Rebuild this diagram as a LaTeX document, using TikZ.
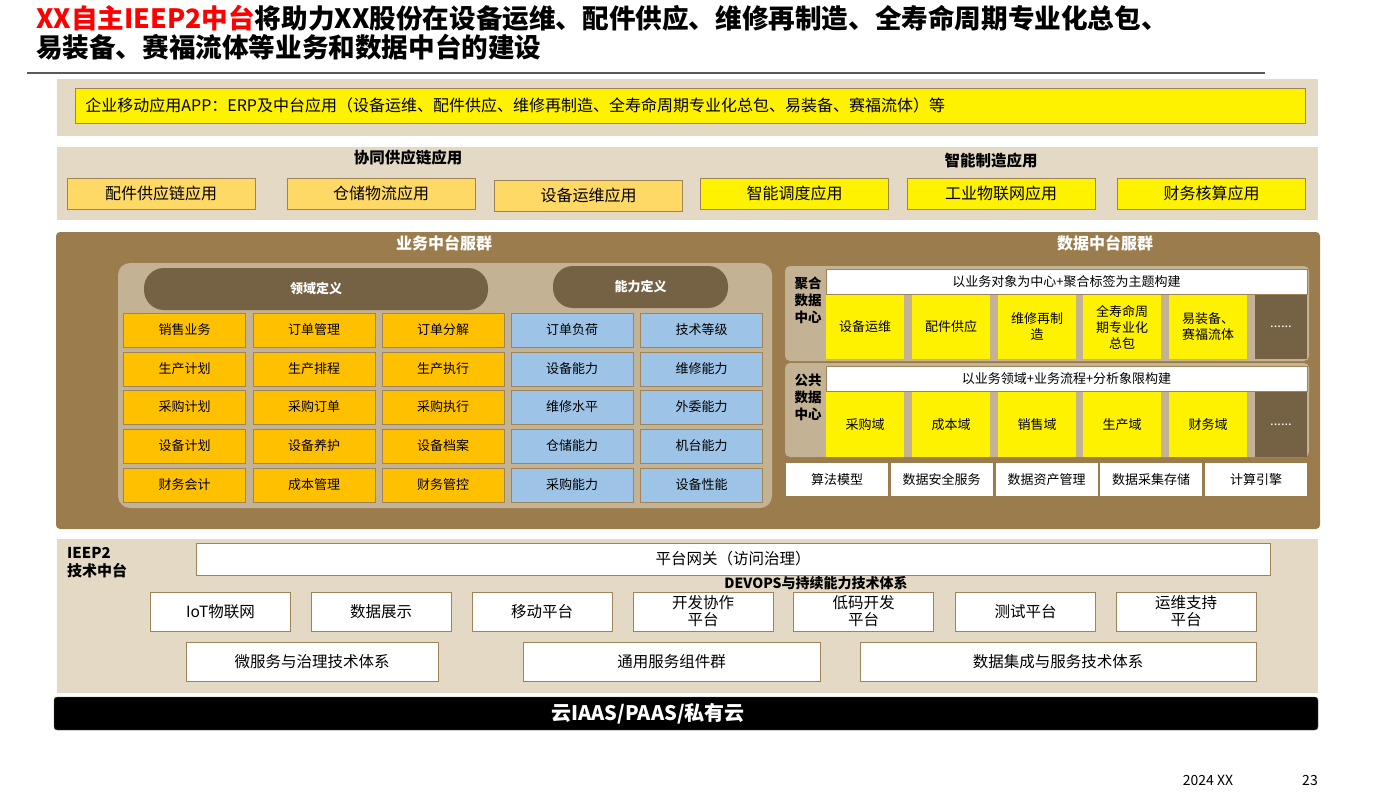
\documentclass[tikz,border=0pt]{standalone}
\usepackage{fontspec}
\setmainfont{Noto Sans CJK SC}
\definecolor{bandbg}{RGB}{228,217,197}
\definecolor{brownbg}{RGB}{155,124,76}
\definecolor{tanbg}{RGB}{196,178,148}
\definecolor{darkpill}{RGB}{117,98,68}
\definecolor{boxline}{RGB}{158,132,88}
\definecolor{amber}{RGB}{255,192,0}
\definecolor{sand}{RGB}{255,217,102}
\definecolor{skyblue}{RGB}{157,195,230}
\definecolor{titlered}{RGB}{255,0,0}

\begin{document}
\begin{tikzpicture}[x=1pt, y=-1pt,
  box/.style={draw=boxline, line width=0.8pt, inner sep=0pt, align=center},
  app/.style={box, minimum width=188pt, minimum height=31pt, font=\fontsize{16}{18}\selectfont},
  grp/.style={font=\fontsize{15.5}{18}\selectfont\bfseries, inner sep=0pt},
  hdr/.style={font=\fontsize{16}{19}\selectfont\bfseries, text=white, inner sep=0pt},
  pill/.style={fill=darkpill, rounded corners=20pt, minimum height=42pt, font=\fontsize{13}{15}\selectfont\bfseries, text=white},
  domcell/.style={box, fill=amber, minimum width=122pt, minimum height=34pt, font=\fontsize{13}{15}\selectfont},
  capcell/.style={domcell, fill=skyblue},
  dctr/.style={font=\fontsize{13.5}{17}\selectfont\bfseries, align=center, inner sep=0pt},
  theme/.style={box, fill=white, line width=0.5pt, minimum width=481pt, minimum height=25pt, font=\fontsize{13}{15}\selectfont},
  dcell/.style={fill=yellow, inner sep=0pt, align=center, minimum width=78pt, font=\fontsize{13}{16}\selectfont},
  dmore/.style={fill=darkpill, inner sep=0pt, minimum width=52pt, text=white, font=\fontsize{13}{15}\selectfont},
  svc/.style={fill=white, inner sep=0pt, minimum width=102pt, minimum height=33pt, font=\fontsize{13}{15}\selectfont},
  tech/.style={box, fill=white, minimum width=140pt, minimum height=39pt, font=\fontsize{15.5}{17}\selectfont},
  wide/.style={box, fill=white, minimum height=39pt, font=\fontsize{15.5}{17}\selectfont}]
\useasboundingbox[fill=white] (0,0) rectangle (1398,793);

\node[anchor=west, align=left, inner sep=0pt, font=\fontsize{26.6}{29}\selectfont\bfseries] (title) at (36,33)
  {\textcolor{titlered}{XX自主IEEP2中台}将助力XX股份在设备运维、配件供应、维修再制造、全寿命周期专业化总包、\\易装备、赛福流体等业务和数据中台的建设};
\draw[line width=1.5pt, black!65] (27,73) -- (1265,73);

\fill[bandbg] (57,79) rectangle (1318,136);
\node[box, fill=yellow, anchor=west, align=left, text width=1210pt, inner xsep=10pt, minimum height=35pt, font=\fontsize{16}{18}\selectfont] (mapp) at (75,105.5)
  {企业移动应用APP：ERP及中台应用（设备运维、配件供应、维修再制造、全寿命周期专业化总包、易装备、赛福流体）等};

\fill[bandbg] (57,147) rectangle (1318,220);
\node[grp] (scm) at (408,158) {协同供应链应用};
\node[grp] (smart) at (991,161) {智能制造应用};
\node[app, fill=sand] (parts) at (161,193.5) {配件供应链应用};
\node[app, fill=sand] (wms) at (381,193.5) {仓储物流应用};
\node[app, fill=sand] (eqops) at (588.5,195.5) {设备运维应用};
\node[app, fill=yellow] (sched) at (794.5,193.5) {智能调度应用};
\node[app, fill=yellow] (iiot) at (1001,193.5) {工业物联网应用};
\node[app, fill=yellow] (fin) at (1211.5,193.5) {财务核算应用};

\fill[brownbg, rounded corners=4pt] (56,232) rectangle (1320,529);
\node[hdr] (bizhub) at (444,243) {业务中台服群};
\node[hdr] (datahub) at (1105,243) {数据中台服群};
\fill[tanbg, rounded corners=12pt] (118,263) rectangle (772,508);
\node[pill, minimum width=344pt] (domain) at (316,289) {领域定义};
\node[pill, minimum width=175pt] (ability) at (640.5,287) {能力定义};

\node[domcell] (sale) at (184.5,330) {销售业务};
\node[domcell] (ordmg) at (314,330) {订单管理};
\node[domcell] (ordsp) at (443,330) {订单分解};
\node[capcell] (ordld) at (572,330) {订单负荷};
\node[capcell] (skill) at (701.5,330) {技术等级};
\node[domcell] (pplan) at (184.5,369) {生产计划};
\node[domcell] (psched) at (314,369) {生产排程};
\node[domcell] (pexec) at (443,369) {生产执行};
\node[capcell] (eqcap) at (572,369) {设备能力};
\node[capcell] (mtcap) at (701.5,369) {维修能力};
\node[domcell] (bplan) at (184.5,407) {采购计划};
\node[domcell] (border) at (314,407) {采购订单};
\node[domcell] (bexec) at (443,407) {采购执行};
\node[capcell] (mtlvl) at (572,407) {维修水平};
\node[capcell] (outcap) at (701.5,407) {外委能力};
\node[domcell] (eplan) at (184.5,446) {设备计划};
\node[domcell] (ecare) at (314,446) {设备养护};
\node[domcell] (efile) at (443,446) {设备档案};
\node[capcell] (stcap) at (572,446) {仓储能力};
\node[capcell] (mccap) at (701.5,446) {机台能力};
\node[domcell] (acct) at (184.5,485) {财务会计};
\node[domcell] (cost) at (314,485) {成本管理};
\node[domcell] (fctl) at (443,485) {财务管控};
\node[capcell] (bycap) at (572,485) {采购能力};
\node[capcell] (eqperf) at (701.5,485) {设备性能};

\fill[tanbg, rounded corners=5pt] (785,266) rectangle (1309,361);
\fill[tanbg, rounded corners=5pt] (785,363) rectangle (1309,457);
\node[dctr] (aggdc) at (808,300) {聚合\\数据\\中心};
\node[dctr] (pubdc) at (808,397) {公共\\数据\\中心};
\node[theme] (aggth) at (1066.5,281.5) {以业务对象为中心+聚合标签为主题构建};
\node[theme] (pubth) at (1066.5,379) {以业务领域+业务流程+分析象限构建};
\node[dcell, minimum height=64pt] (aeq) at (865,327) {设备运维};
\node[dcell, minimum height=64pt] (apart) at (951,327) {配件供应};
\node[dcell, minimum height=64pt] (arep) at (1037,327) {维修再制\\造};
\node[dcell, minimum height=64pt] (alife) at (1122,327) {全寿命周\\期专业化\\总包};
\node[dcell, minimum height=64pt] (aeasy) at (1208,327) {易装备、\\赛福流体};
\node[dmore, minimum height=64pt] (amore) at (1281,327) {......};
\node[dcell, minimum height=65pt] (pbuy) at (865,424.5) {采购域};
\node[dcell, minimum height=65pt] (pcost) at (951,424.5) {成本域};
\node[dcell, minimum height=65pt] (psale) at (1037,424.5) {销售域};
\node[dcell, minimum height=65pt] (pprod) at (1122,424.5) {生产域};
\node[dcell, minimum height=65pt] (pfin) at (1208,424.5) {财务域};
\node[dmore, minimum height=65pt] (pmore) at (1281,424.5) {......};
\node[svc] (algo) at (837,479.5) {算法模型};
\node[svc] (dsec) at (941.5,479.5) {数据安全服务};
\node[svc] (dasset) at (1046.5,479.5) {数据资产管理};
\node[svc] (dstore) at (1151,479.5) {数据采集存储};
\node[svc] (engine) at (1256,479.5) {计算引擎};

\fill[bandbg] (57,539) rectangle (1318,693);
\node[anchor=west, align=left, inner sep=0pt, font=\fontsize{15}{18}\selectfont\bfseries] (techhub) at (67,563) {IEEP2\\技术中台};
\node[wide, minimum width=1074pt, minimum height=32pt] (gateway) at (733,559) {平台网关（访问治理）};
\node[inner sep=0pt, font=\fontsize{14}{16}\selectfont\bfseries] (devops) at (816,583) {DEVOPS与持续能力技术体系};
\node[tech] (iot) at (220.5,611.5) {IoT物联网};
\node[tech] (dview) at (381,611.5) {数据展示};
\node[tech] (mobile) at (542,611.5) {移动平台};
\node[tech] (collab) at (703,611.5) {开发协作\\平台};
\node[tech] (lowcode) at (863.5,611.5) {低码开发\\平台};
\node[tech] (testp) at (1025.5,611.5) {测试平台};
\node[tech] (opsp) at (1186,611.5) {运维支持\\平台};
\node[wide, minimum width=252pt] (micro) at (312,661.5) {微服务与治理技术体系};
\node[wide, minimum width=297pt] (common) at (671.5,661.5) {通用服务组件群};
\node[wide, minimum width=396pt] (dinteg) at (1058,661.5) {数据集成与服务技术体系};

\fill[black, draw=black!60, rounded corners=3pt] (54,697) rectangle (1318,730);
\node[inner sep=0pt, text=white, font=\fontsize{20}{22}\selectfont\bfseries] (cloud) at (648,714) {云IAAS/PAAS/私有云};

\node[font=\fontsize{14}{16}\selectfont] (date) at (1208,780) {2024 XX};
\node[font=\fontsize{14}{16}\selectfont] (page) at (1310,780) {23};
\end{tikzpicture}
\end{document}
